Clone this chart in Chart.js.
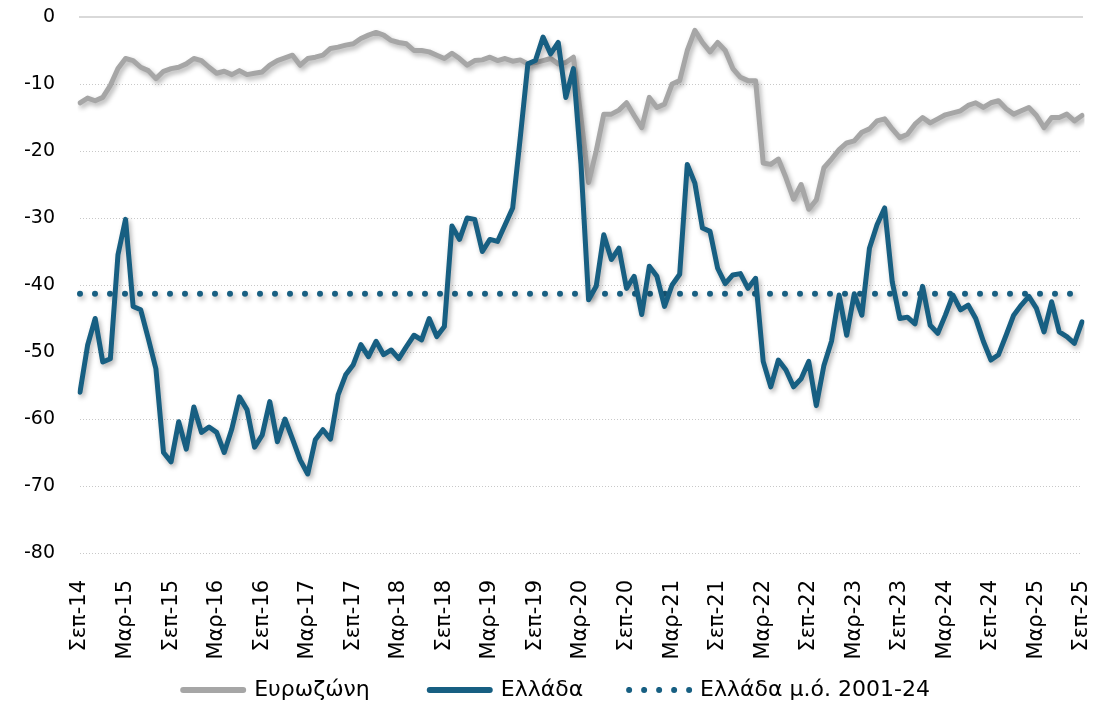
<!DOCTYPE html>
<html>
<head>
<meta charset="utf-8">
<script src="https://cdn.jsdelivr.net/npm/chart.js@4.4.1/dist/chart.umd.min.js"></script>
<style>
  html, body { margin:0; padding:0; background:#fff; }
  #wrap { width:1097px; height:705px; }
</style>
</head>
<body>
<div id="wrap"><canvas id="c" width="1097" height="705"></canvas></div>
<script>
'use strict';
// ---- data (monthly, Σεπ-14 .. Σεπ-25) ----
var monthNames = ['Ιαν','Φεβ','Μαρ','Απρ','Μαϊ','Ιουν','Ιουλ','Αυγ','Σεπ','Οκτ','Νοε','Δεκ'];
var startYear = 2014, startMonth = 8, nMonths = 133;

var eurozone = [
  -12.8,-12.1,-12.5,-12,-10.2,-7.7,-6.2,-6.5,-7.5,-8,-9.2,-8.1,
  -7.7,-7.5,-7,-6.2,-6.5,-7.5,-8.4,-8.1,-8.6,-8,-8.6,-8.4,
  -8.2,-7.2,-6.5,-6.1,-5.7,-7.2,-6.2,-6,-5.7,-4.7,-4.5,-4.2,
  -4,-3.2,-2.7,-2.3,-2.7,-3.5,-3.8,-4,-5,-5,-5.2,-5.7,
  -6.2,-5.4,-6.2,-7.2,-6.5,-6.4,-6,-6.5,-6.2,-6.6,-6.4,-7,
  -6.8,-6.5,-6.2,-7,-6.8,-6,-15,-24.7,-20,-14.5,-14.5,-13.9,
  -12.8,-14.7,-16.5,-12,-13.5,-13,-10,-9.5,-5,-2,-3.8,-5.2,
  -3.8,-5,-7.7,-9,-9.5,-9.5,-21.8,-22,-21.2,-24,-27.2,-25,
  -28.7,-27.3,-22.5,-21.2,-19.8,-18.8,-18.5,-17.2,-16.7,-15.5,-15.2,-16.7,
  -18,-17.5,-16,-15,-15.8,-15.2,-14.6,-14.3,-14,-13.2,-12.8,-13.5,
  -12.8,-12.5,-13.7,-14.5,-14,-13.5,-14.7,-16.5,-15,-15,-14.5,-15.5,
  -14.7
];

var greece = [
  -56,-49,-45,-51.5,-51,-35.5,-30.2,-43.2,-43.7,-48,-52.5,-65,
  -66.4,-60.4,-64.5,-58.2,-62,-61.2,-62,-65,-61.5,-56.7,-58.6,-64.2,
  -62.4,-57.4,-63.4,-60,-63,-66.1,-68.2,-63.1,-61.6,-63,-56.4,-53.4,
  -51.9,-48.9,-50.7,-48.4,-50.4,-49.7,-51,-49.2,-47.5,-48.2,-45,-47.7,
  -46.2,-31.2,-33.2,-30,-30.2,-35,-33.2,-33.5,-31,-28.5,-18,-7,
  -6.5,-3,-5.5,-3.8,-12,-7.7,-22,-42.2,-40.2,-32.5,-36.2,-34.5,
  -40.5,-38.7,-44.4,-37.2,-38.7,-43.2,-40,-38.4,-22,-24.8,-31.5,-32,
  -37.5,-39.8,-38.5,-38.3,-40.5,-39,-51.4,-55.2,-51.2,-52.7,-55.2,-54,
  -51.4,-58,-52,-48.4,-41.5,-47.5,-41.3,-44.5,-34.5,-31,-28.5,-39.5,
  -45,-44.8,-45.8,-40.2,-46,-47.2,-44.5,-41.5,-43.7,-43,-45,-48.4,
  -51.2,-50.4,-47.5,-44.5,-43,-41.7,-43.5,-47,-42.5,-47,-47.7,-48.7,
  -45.5
];

var greeceAvg = -41.3;   // Ελλάδα μ.ό. 2001-24

var labels = [];
for (var i = 0; i < nMonths; i++) {
  var m = (startMonth + i) % 12;
  var y = startYear + Math.floor((startMonth + i) / 12);
  labels.push(monthNames[m] + '-' + String(y).slice(2));
}

var BLUE = '#175f82', GREY = '#a6a6a6';
var FONT = "'DejaVu Sans', sans-serif";

// soft drop shadow under the lines
var shadowPlugin = {
  id: 'lineShadow',
  beforeDatasetDraw: function(chart) {
    var ctx = chart.ctx;
    ctx.save();
    ctx.shadowColor = 'rgba(0,0,0,0.3)';
    ctx.shadowBlur = 5;
    ctx.shadowOffsetX = 2;
    ctx.shadowOffsetY = 3;
  },
  afterDatasetDraw: function(chart) { chart.ctx.restore(); }
};

// trailing spaces stand in for the wide gaps between legend entries
var legendGap = ['        ', '      ', '       '];

new Chart(document.getElementById('c'), {
  type: 'line',
  data: {
    labels: labels,
    datasets: [
      {label:'Ευρωζώνη', data:eurozone, borderColor:GREY, backgroundColor:GREY, borderWidth:5,
       pointRadius:0, tension:0, borderCapStyle:'round', borderJoinStyle:'round', order:2},
      {label:'Ελλάδα', data:greece, borderColor:BLUE, backgroundColor:BLUE, borderWidth:5,
       pointRadius:0, tension:0, borderCapStyle:'round', borderJoinStyle:'round', order:0},
      {label:'Ελλάδα μ.ό. 2001-24', data:labels.map(function(){ return greeceAvg; }),
       borderColor:BLUE, backgroundColor:'rgba(0,0,0,0)', borderWidth:6, borderDash:[0,15],
       borderCapStyle:'round', pointRadius:0, order:1}
    ]
  },
  options: {
    responsive:false, animation:false,
    layout:{padding:{left:25, right:15, top:0, bottom:-6}},
    plugins: {
      tooltip:{enabled:false},
      legend: {
        position:'bottom', fullSize:false,
        labels: {
          color:'#000', font:{family:FONT, size:22}, boxWidth:60, boxHeight:0.01, padding:4,
          sort: function(a, b) { return a.datasetIndex - b.datasetIndex; },
          generateLabels: function(chart) {
            var items = Chart.defaults.plugins.legend.labels.generateLabels(chart);
            items.forEach(function(it) {
              it.lineWidth = 6; it.lineJoin = 'round'; it.lineCap = 'round';
              if (it.datasetIndex !== 2) it.lineDash = [];
              it.text = it.text + legendGap[it.datasetIndex];
            });
            return items;
          }
        }
      }
    },
    scales: {
      x: {
        grid:{display:false}, border:{display:false},
        afterFit: function(s) { s.height = 122; s.paddingLeft = 0; s.paddingRight = 0; },
        ticks:{
          autoSkip:false, maxRotation:90, minRotation:90, padding:19,
          color:'#000', font:{family:FONT, size:21},
          callback: function(v, idx) { return idx % 6 === 0 ? this.getLabelForValue(v) : null; }
        }
      },
      x2: {
        type:'category', position:'top', labels:labels,
        afterFit: function(s) { s.height = 17; s.paddingLeft = 0; s.paddingRight = 0; },
        grid:{display:false, drawTicks:false}, ticks:{display:false},
        border:{display:true, color:'#d9d9d9', width:2}
      },
      y: {
        min:-80, max:0,
        afterFit: function(s) { s.width = 55; s.paddingTop = 0; s.paddingBottom = 0; },
        grid:{color:'#c8c8c8', lineWidth:1, drawTicks:false},
        border:{display:false, dash:[1,2]},
        ticks:{stepSize:10, padding:25, color:'#000', font:{family:FONT, size:19}}
      }
    }
  },
  plugins:[shadowPlugin]
});
</script>
</body>
</html>
